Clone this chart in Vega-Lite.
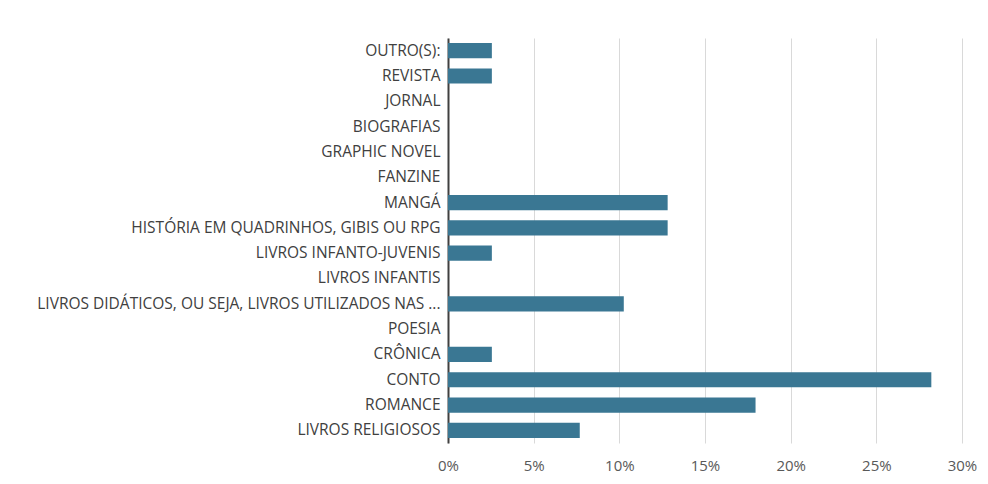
{
  "$schema": "https://vega.github.io/schema/vega-lite/v6.json",
  "autosize": "none",
  "width": 514,
  "height": 405,
  "padding": {"left": 448, "top": 38, "right": 26, "bottom": 41},
  "background": "white",
  "config": {"view": {"stroke": null}, "font": "Open Sans"},
  "data": {"values": [
    {"cat": "OUTRO(S):", "pct": 0.0256},
    {"cat": "REVISTA", "pct": 0.0256},
    {"cat": "JORNAL", "pct": 0},
    {"cat": "BIOGRAFIAS", "pct": 0},
    {"cat": "GRAPHIC NOVEL", "pct": 0},
    {"cat": "FANZINE", "pct": 0},
    {"cat": "MANGÁ", "pct": 0.1282},
    {"cat": "HISTÓRIA EM QUADRINHOS, GIBIS OU RPG", "pct": 0.1282},
    {"cat": "LIVROS INFANTO-JUVENIS", "pct": 0.0256},
    {"cat": "LIVROS INFANTIS", "pct": 0},
    {"cat": "LIVROS DIDÁTICOS, OU SEJA, LIVROS UTILIZADOS NAS ...", "pct": 0.1026},
    {"cat": "POESIA", "pct": 0},
    {"cat": "CRÔNICA", "pct": 0.0256},
    {"cat": "CONTO", "pct": 0.2821},
    {"cat": "ROMANCE", "pct": 0.1795},
    {"cat": "LIVROS RELIGIOSOS", "pct": 0.0769}
  ]},
  "mark": {"type": "bar", "color": "#3A7793"},
  "encoding": {
    "y": {
      "field": "cat", "type": "nominal", "sort": null, "title": null,
      "scale": {"paddingInner": 0.4, "paddingOuter": 0.2},
      "axis": {"domainColor": "#404040", "domainWidth": 2, "ticks": false, "labelPadding": 8,
               "labelFont": "Open Sans", "labelFontSize": 15.5, "labelColor": "#404040", "labelLimit": 500, "grid": false}
    },
    "x": {
      "field": "pct", "type": "quantitative", "title": null,
      "scale": {"domain": [0, 0.3], "nice": false},
      "axis": {"values": [0, 0.05, 0.1, 0.15, 0.2, 0.25, 0.3], "format": ".0%", "domain": false, "ticks": false,
               "labelFlush": false, "labelOverlap": false,
               "labelPadding": 15, "labelFont": "Open Sans", "labelFontSize": 15, "labelColor": "#595959",
               "gridColor": "#D9D9D9", "gridWidth": 1}
    }
  }
}
